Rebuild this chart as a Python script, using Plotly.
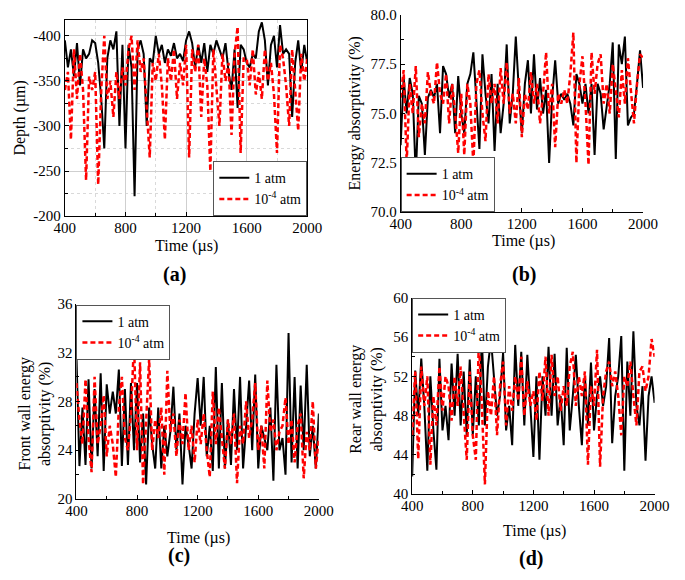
import plotly.graph_objects as go

# ---------------- data ----------------
time_us = list(range(400, 2001, 20))

depth_1atm = [-395, -365, -385, -355, -392, -345, -385, -375, -380, -395,
              -392, -370, -330, -275, -375, -395, -385, -405, -300, -390,
              -275, -390, -365, -222, -385, -395, -380, -300, -375, -370,
              -400, -380, -390, -370, -385, -378, -392, -375, -380, -372,
              -395, -405, -392, -365, -390, -370, -392, -360, -390, -380,
              -395, -385, -375, -392, -360, -340, -385, -320, -390, -385,
              -370, -365, -380, -375, -405, -415, -395, -345, -390, -400,
              -365, -412, -380, -385, -380, -310, -370, -395, -360, -390,
              -370]
depth_1e4 = [-340, -360, -285, -385, -330, -380, -340, -240, -355, -340,
             -360, -235, -340, -400, -330, -350, -310, -360, -330, -365,
             -345, -385, -400, -340, -395, -360, -375, -320, -265, -370,
             -350, -380, -345, -285, -375, -350, -385, -330, -370, -345,
             -390, -265, -385, -360, -390, -310, -375, -345, -250, -385,
             -340, -300, -380, -350, -370, -290, -380, -410, -270, -375,
             -375, -345, -385, -335, -360, -330, -385, -350, -370, -335,
             -270, -390, -375, -345, -300, -385, -340, -295, -380, -350,
             -375]

abs_1atm = [73.4, 76.8, 75.0, 76.8, 76.0, 71.8, 75.9, 75.5, 72.9, 75.8,
            76.2, 75.8, 76.5, 74.0, 77.4, 77.0, 75.8, 76.5, 74.0, 76.9,
            75.0, 74.0, 76.5, 77.0, 78.1, 75.5, 73.2, 78.0, 76.0, 74.5,
            77.0, 73.1, 76.5, 74.0, 75.5, 78.5, 74.5, 76.0, 78.9, 76.2,
            74.0, 76.5, 77.7, 75.0, 78.0, 75.2, 76.8, 75.0, 76.2, 72.5,
            75.8, 77.7, 75.5, 76.0, 75.7, 76.0, 75.5, 74.4, 77.0, 76.5,
            75.5, 76.5, 75.0, 76.5, 72.9, 76.5, 76.0, 74.2, 75.5, 76.5,
            78.6, 72.7, 78.5, 77.5, 78.9, 74.4, 74.8, 75.0, 76.5, 78.2,
            76.3]
abs_1e4 = [75.8, 77.2, 72.5, 76.5, 75.0, 77.4, 73.8, 75.5, 74.5, 77.1,
           76.0, 75.5, 77.6, 76.0, 75.5, 77.0, 74.5, 76.5, 75.0, 73.0,
           76.0, 72.9, 76.5, 75.5, 72.4, 76.5, 77.2, 75.0, 73.6, 77.0,
           75.5, 76.5, 74.5, 77.3, 75.5, 77.6, 75.0, 76.0, 74.5, 76.8,
           73.8, 76.0, 75.2, 77.1, 75.5, 76.5, 74.5, 76.0, 78.1, 75.0,
           76.5, 73.3, 76.0, 75.5, 76.2, 75.5, 77.0, 79.1, 72.5, 76.5,
           77.9, 75.5, 72.4, 78.1, 76.0, 77.5, 78.0, 75.5, 76.5, 75.0,
           77.5, 76.0, 74.8, 77.2, 75.5, 77.8, 76.0, 74.5, 76.5, 78.0,
           77.8]

front_1atm = [31.8, 22.7, 27.5, 22.8, 29.8, 22.5, 29.0, 23.5, 30.3, 22.3,
              29.4, 27.0, 28.8, 27.0, 30.6, 22.7, 29.0, 22.8, 29.5, 24.0,
              29.5, 23.0, 27.0, 21.2, 27.5, 24.5, 22.5, 27.5, 22.5, 26.0,
              23.5, 25.5, 29.2, 24.0, 27.0, 21.2, 26.0, 24.5, 22.5, 27.0,
              29.9, 26.0, 30.0, 23.5, 26.0, 22.3, 30.8, 22.5, 29.5, 22.5,
              26.5, 22.8, 29.0, 24.0, 30.0, 22.5, 26.0, 29.7, 24.0, 30.2,
              22.5, 26.0, 25.0, 24.0, 27.5, 21.5, 31.0, 24.0, 25.0, 22.0,
              33.6, 23.0, 30.0, 22.5, 29.3, 24.0, 31.0, 23.5, 26.0, 22.5,
              27.0]
front_1e4 = [29.5, 26.5, 24.5, 29.8, 25.0, 22.2, 30.0, 24.5, 26.0, 28.5,
             23.5, 26.0, 24.5, 21.8, 27.5, 30.0, 25.0, 24.0, 27.0, 32.8,
             24.0, 31.2, 21.2, 27.0, 31.5, 24.0, 26.5, 25.0, 27.5, 22.0,
             30.5, 25.5, 27.0, 23.5, 26.5, 24.5, 28.7, 24.0, 26.0, 23.0,
             26.5, 24.5, 27.0, 24.0, 21.8, 28.8, 24.5, 27.5, 25.0, 22.5,
             26.5, 24.5, 27.0, 21.3, 26.0, 24.5, 28.0, 25.0, 26.5, 29.5,
             24.0, 26.0, 22.5, 29.7, 25.5, 26.5, 24.0, 25.5, 26.0, 28.3,
             24.5, 26.5, 23.0, 26.0, 27.0, 21.7, 25.5, 24.0, 28.0, 22.5,
             25.0]

rear_1atm = [41.8, 52.6, 48.0, 53.8, 49.0, 42.4, 52.0, 46.5, 42.5, 53.8,
             46.5, 49.0, 45.5, 53.3, 48.0, 54.3, 47.0, 52.5, 46.0, 53.7,
             46.0, 52.0, 47.0, 56.0, 47.0, 53.0, 55.8, 52.0, 48.0, 50.0,
             54.4, 46.5, 49.0, 45.0, 55.2, 49.0, 54.5, 47.0, 54.2, 49.0,
             43.8, 52.0, 43.5, 52.0, 48.0, 55.0, 48.0, 54.3, 47.0, 50.0,
             45.0, 54.9, 46.5, 50.0, 54.2, 49.0, 45.0, 52.0, 47.0, 53.4,
             46.5, 50.0, 52.0, 49.0, 51.0, 55.9, 45.2, 50.0, 52.0, 56.1,
             42.4, 53.5, 48.0, 56.6, 49.0, 47.0, 51.0, 43.4, 50.0, 52.0,
             49.3]
rear_1e4 = [46.0, 52.5, 43.6, 53.0, 49.0, 52.0, 43.0, 50.0, 47.0, 53.0,
            48.5, 52.0, 51.0, 47.5, 52.0, 49.0, 53.0, 48.0, 43.5, 52.5,
            46.0, 43.5, 55.6, 49.0, 41.0, 50.5, 48.0, 52.0, 46.0, 51.0,
            53.5, 47.0, 51.0, 48.5, 52.0, 49.5, 54.0, 48.0, 51.5, 49.0,
            50.5, 47.5, 52.5, 49.5, 54.0, 48.0, 54.2, 50.0, 52.0, 48.5,
            51.0, 49.0, 53.0, 54.5, 49.0, 52.0, 50.0, 52.5, 43.0, 51.0,
            49.0, 54.7, 42.8, 50.0, 52.5, 53.5, 51.0, 52.5, 50.0, 46.0,
            52.0, 51.0, 53.5, 50.0, 47.0, 52.5, 53.0, 50.5, 52.0, 55.8,
            54.0]

series_names = ["1 atm", "10<sup>-4</sup> atm"]
x_ticks = [400, 800, 1200, 1600, 2000]
depth_ticks = [-400, -350, -300, -250, -200]
depth_ticktext = ["-400", "-350", "-300", "-250", "-200"]
abs_ticks = [70.0, 72.5, 75.0, 77.5, 80.0]
abs_ticktext = ["70.0", "72.5", "75.0", "77.5", "80.0"]
front_ticks = [20, 24, 28, 32, 36]
rear_ticks = [40, 44, 48, 52, 56, 60]

# ---------------- figure ----------------
W, H = 685, 580
FONT = "Liberation Serif, Times New Roman, serif"
BLACK_LINE = dict(color="black", width=2)
RED_LINE = dict(color="#ff0000", width=2.5, dash="5px,3px")

fig = go.Figure()

panels = [
    ("x", "y", "legend", depth_1atm, depth_1e4),
    ("x2", "y2", "legend2", abs_1atm, abs_1e4),
    ("x3", "y3", "legend3", front_1atm, front_1e4),
    ("x4", "y4", "legend4", rear_1atm, rear_1e4),
]
for xa, ya, lg, s1, s2 in panels:
    fig.add_trace(go.Scatter(x=time_us, y=s1, mode="lines", line=BLACK_LINE,
                             name=series_names[0], xaxis=xa, yaxis=ya, legend=lg))
    fig.add_trace(go.Scatter(x=time_us, y=s2, mode="lines", line=RED_LINE,
                             name=series_names[1], xaxis=xa, yaxis=ya, legend=lg))

def px_x(p):
    return p / W

def px_y(p):
    return 1 - p / H

tickfont = dict(family=FONT, size=15, color="black")

def xaxis(domain, anchor, grid=False, mirror=False):
    d = dict(domain=domain, anchor=anchor, range=[400, 2000], tickvals=x_ticks,
             showline=True, linecolor="black", linewidth=1, mirror=mirror,
             ticks="inside", ticklen=4, tickcolor="black", tickfont=tickfont,
             ticklabelstandoff=-2,
             showgrid=grid, zeroline=False,
             minor=dict(dtick=200, tick0=400, ticks="inside", ticklen=3,
                        tickcolor="black", showgrid=grid))
    if grid:
        d.update(gridcolor="#cfcfcf", gridwidth=1)
        d["minor"].update(gridcolor="#d9d9d9", griddash="dot")
    return d

def yaxis(domain, anchor, rng, tv, tt, minor_dtick, grid=False, mirror=False):
    d = dict(domain=domain, anchor=anchor, range=rng, tickvals=tv, ticktext=tt,
             showline=True, linecolor="black", linewidth=1, mirror=mirror,
             ticks="inside", ticklen=4, tickcolor="black", tickfont=tickfont,
             showgrid=grid, zeroline=False,
             minor=dict(dtick=minor_dtick, tick0=tv[0], ticks="inside", ticklen=3,
                        tickcolor="black", showgrid=grid))
    if grid:
        d.update(gridcolor="#cfcfcf", gridwidth=1)
        d["minor"].update(gridcolor="#d9d9d9", griddash="dot")
    return d

# plot area pixel boxes (left, right, top, bottom)
A = (56, 308, 12, 214)
B = (405, 657, 7, 210)
C = (68, 320, 304, 505)
D = (417, 669, 298, 500)

def dom(box):
    l, r, t, b = box
    return [px_x(l), px_x(r)], [px_y(b), px_y(t)]

ax, ay = dom(A)
bx, by = dom(B)
cx, cy = dom(C)
dx, dy = dom(D)

legend_common = dict(bgcolor="white", bordercolor="#555555", borderwidth=1,
                     font=dict(family=FONT, size=14, color="black"),
                     tracegroupgap=0, itemwidth=30)

fig.update_layout(
    width=W, height=H, margin=dict(l=0, r=0, t=0, b=0),
    paper_bgcolor="white", plot_bgcolor="white",
    font=dict(family=FONT, size=15, color="black"),
    showlegend=True,
    xaxis=xaxis(ax, "y", grid=True, mirror=True),
    yaxis=yaxis(ay, "x", [-200, -418], depth_ticks, depth_ticktext, 25, grid=True, mirror=True),
    xaxis2=xaxis(bx, "y2"),
    yaxis2=yaxis(by, "x2", [70, 80], abs_ticks, abs_ticktext, 1.25),
    xaxis3=xaxis(cx, "y3"),
    yaxis3=yaxis(cy, "x3", [20, 36], front_ticks, [str(v) for v in front_ticks], 2),
    xaxis4=xaxis(dx, "y4"),
    yaxis4=yaxis(dy, "x4", [40, 60], rear_ticks, [str(v) for v in rear_ticks], 2),
    legend=dict(x=px_x(308), y=px_y(214), xanchor="right", yanchor="bottom", **legend_common),
    legend2=dict(x=px_x(405), y=px_y(210), xanchor="left", yanchor="bottom", **legend_common),
    legend3=dict(x=px_x(68), y=px_y(305), xanchor="left", yanchor="top", **legend_common),
    legend4=dict(x=px_x(417), y=px_y(298), xanchor="left", yanchor="top", **legend_common),
)

def note(text, x, y, size=16, angle=0, bold=False):
    if bold:
        text = "<b>" + text + "</b>"
    fig.add_annotation(text=text, x=px_x(x), y=px_y(y), xref="paper", yref="paper",
                       xanchor="center", yanchor="middle", showarrow=False,
                       textangle=angle, font=dict(family=FONT, size=size, color="black"))

# axis titles
note("Time (µs)", 182, 245)
note("Depth (µm)", 9, 113, angle=-90)
note("Time (µs)", 533, 240)
note("Energy absorptivity (%)", 358, 108, angle=-90)
note("Time (µs)", 195, 545)
note("Front wall energy<br>absorptivity (%)", 25, 418, angle=-90)
note("Time (µs)", 544, 538)
note("Rear wall energy<br>absorptivity (%)", 370, 402, angle=-90)

# panel labels
note("(a)", 170, 274, size=20, bold=True)
note("(b)", 533, 274, size=20, bold=True)
note("(c)", 175, 563, size=20, bold=True)
note("(d)", 540, 566, size=20, bold=True)

fig.write_html("out.html", config={"displayModeBar": False},
               post_script="document.body.style.margin='0';document.body.style.overflow='hidden';")
